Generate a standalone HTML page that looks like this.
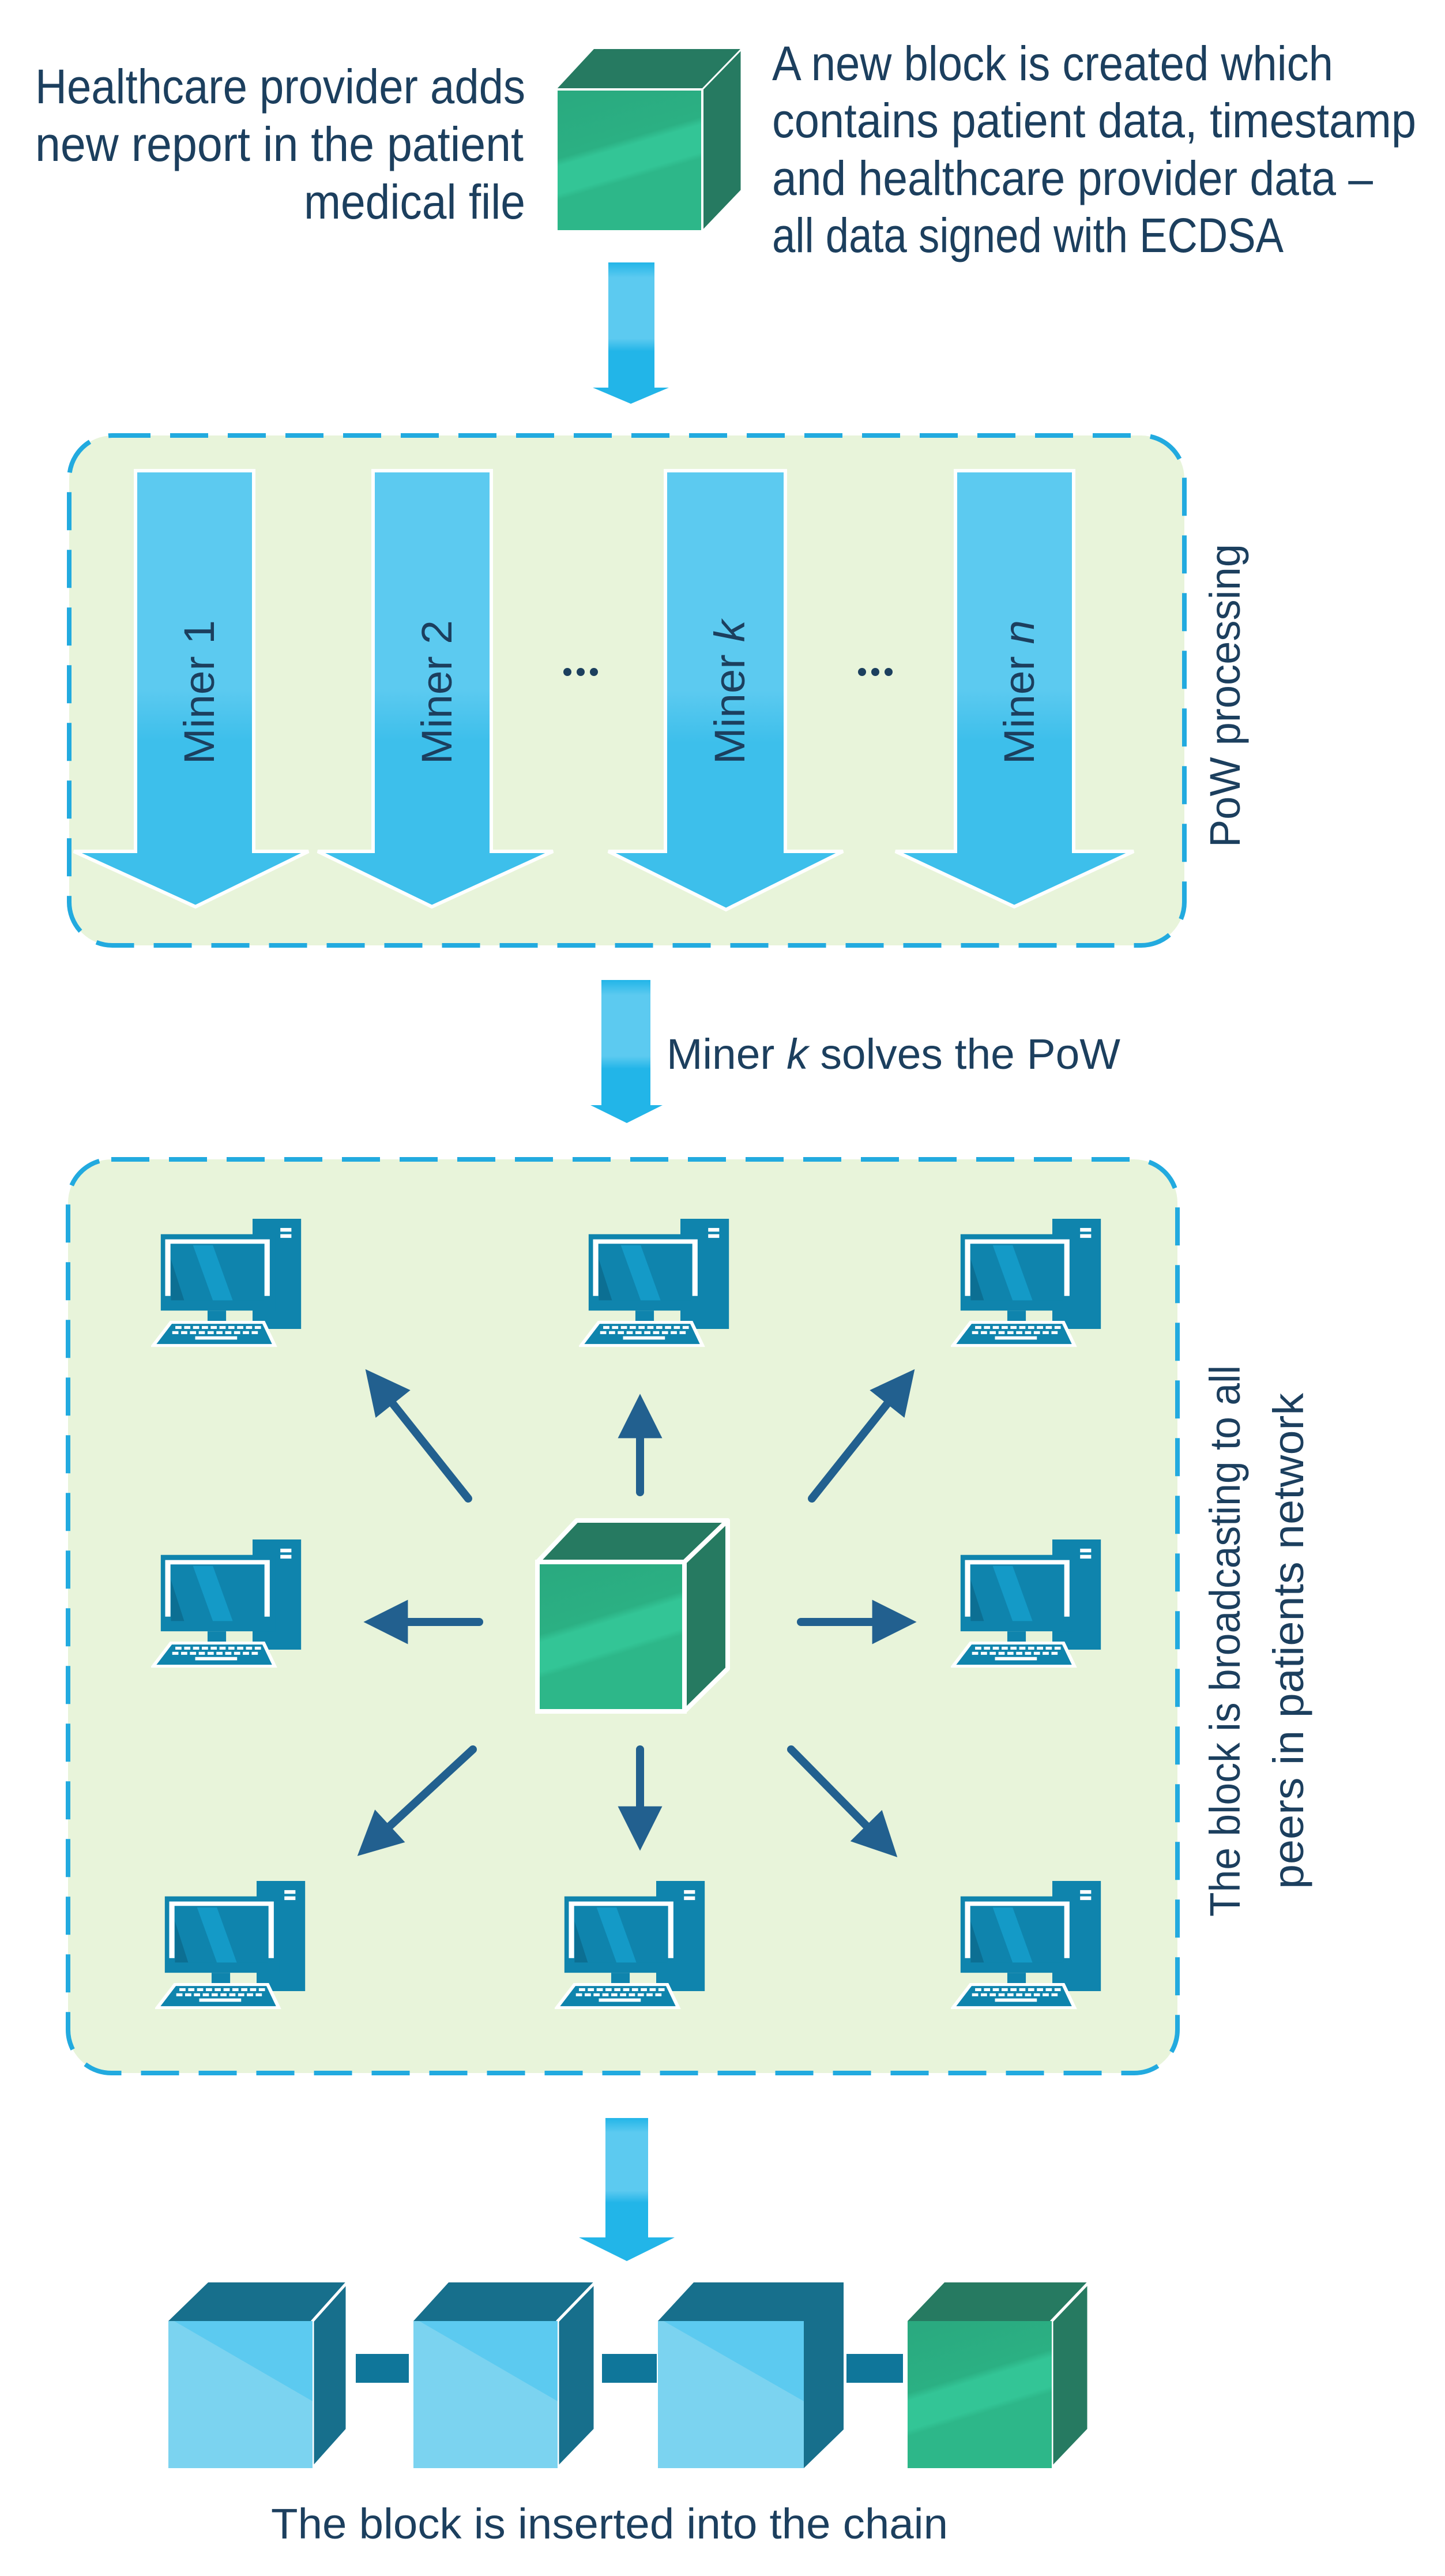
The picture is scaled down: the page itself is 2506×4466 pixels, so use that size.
<!DOCTYPE html>
<html><head><meta charset="utf-8"><style>
html,body{margin:0;padding:0;background:#fff;}
svg{display:block;}
text{font-family:"Liberation Sans",sans-serif;fill:#1c3f5e;}
</style></head><body>
<svg width="2506" height="4466" viewBox="0 0 2506 4466" xmlns="http://www.w3.org/2000/svg">
<defs>
<linearGradient id="ga" x1="0" y1="0" x2="0" y2="1">
<stop offset="0" stop-color="#5ccaf0"/><stop offset="0.5" stop-color="#5ccaf0"/><stop offset="0.62" stop-color="#3dbfeb"/><stop offset="1" stop-color="#3dbfeb"/>
</linearGradient>
<linearGradient id="gs" x1="0" y1="0" x2="0" y2="1">
<stop offset="0" stop-color="#22b5e8"/><stop offset="0.12" stop-color="#5ccaf0"/><stop offset="0.6" stop-color="#5ccaf0"/><stop offset="0.7" stop-color="#22b5e8"/><stop offset="1" stop-color="#22b5e8"/>
</linearGradient>
<linearGradient id="gg" x1="0" y1="0" x2="0.3" y2="1">
<stop offset="0" stop-color="#2aa97f"/><stop offset="0.45" stop-color="#2bb083"/><stop offset="0.5" stop-color="#33c596"/><stop offset="0.68" stop-color="#33c596"/><stop offset="0.72" stop-color="#2db789"/><stop offset="1" stop-color="#2db789"/>
</linearGradient>
<g id="comp">
<rect x="230" y="0" width="110" height="300" fill="#0f84ad"/>
<rect x="293" y="25" width="25" height="10" fill="#fff"/>
<rect x="293" y="42" width="25" height="10" fill="#fff"/>
<rect x="22" y="42" width="260" height="208" fill="#0f84ad"/>
<polyline points="38,210 38,62 263,62 263,210" fill="none" stroke="#fff" stroke-width="12"/>
<rect x="45" y="72" width="210" height="150" fill="#0f84ad"/>
<polygon points="95,72 140,72 185,222 140,222" fill="#149ac7"/>
<polygon points="45,110 75,222 45,222" fill="#0c6f93"/>
<rect x="128" y="250" width="42" height="32" fill="#0f84ad"/>
<polygon points="45,282 255,282 280,345 5,345" fill="#0f84ad" stroke="#fff" stroke-width="8"/>
<g fill="#fff">
<rect x="55" y="292" width="14" height="8"/><rect x="75" y="292" width="14" height="8"/><rect x="95" y="292" width="14" height="8"/><rect x="115" y="292" width="14" height="8"/><rect x="135" y="292" width="14" height="8"/><rect x="155" y="292" width="14" height="8"/><rect x="175" y="292" width="14" height="8"/><rect x="195" y="292" width="14" height="8"/><rect x="215" y="292" width="14" height="8"/><rect x="235" y="292" width="14" height="8"/>
<rect x="48" y="306" width="14" height="8"/><rect x="68" y="306" width="14" height="8"/><rect x="88" y="306" width="14" height="8"/><rect x="108" y="306" width="14" height="8"/><rect x="128" y="306" width="14" height="8"/><rect x="148" y="306" width="14" height="8"/><rect x="168" y="306" width="14" height="8"/><rect x="188" y="306" width="14" height="8"/><rect x="208" y="306" width="14" height="8"/><rect x="228" y="306" width="14" height="8"/>
<rect x="100" y="320" width="95" height="9"/>
</g>
</g>
<marker id="ah" viewBox="0 0 10 10" refX="2" refY="5" markerWidth="7" markerHeight="5.5" orient="auto" markerUnits="strokeWidth">
<path d="M0,0 L10,5 L0,10 z" fill="#22608f"/>
</marker>
</defs>

<g font-size="84">
<text x="911" y="179" text-anchor="end" textLength="850" lengthAdjust="spacingAndGlyphs">Healthcare provider adds</text>
<text x="908" y="279" text-anchor="end" textLength="847" lengthAdjust="spacingAndGlyphs">new report in the patient</text>
<text x="911" y="379" text-anchor="end" textLength="384" lengthAdjust="spacingAndGlyphs">medical file</text>
<text x="1339" y="139" textLength="973" lengthAdjust="spacingAndGlyphs">A new block is created which</text>
<text x="1339" y="238" textLength="1117" lengthAdjust="spacingAndGlyphs">contains patient data, timestamp</text>
<text x="1339" y="338" textLength="1042" lengthAdjust="spacingAndGlyphs">and healthcare provider data –</text>
<text x="1339" y="437" textLength="887" lengthAdjust="spacingAndGlyphs">all data signed with ECDSA</text>
</g>

<polygon points="965,155 1030,85 1286,85 1218,155" fill="#267a61"/>
<polygon points="1218,155 1286,85 1286,330 1218,401" fill="#267a61" stroke="#fff" stroke-width="3"/>
<rect x="965" y="155" width="253" height="246" fill="url(#gg)" stroke="#fff" stroke-width="4"/>

<rect x="1055" y="455" width="80" height="220" fill="url(#gs)"/>
<polygon points="1028,672 1160,672 1094,700" fill="#22b5e8"/>

<rect x="120" y="755" width="1934" height="884" rx="75" fill="#e8f4da" stroke="#22aadf" stroke-width="8" stroke-dasharray="66 34"/>

<g stroke="#fff" stroke-width="6" fill="url(#ga)">
<polygon points="235,816 440,816 440,1476 535,1476 339,1572 128,1476 235,1476"/>
<polygon points="647,816 852,816 852,1476 959,1476 749,1572 551,1476 647,1476"/>
<polygon points="1154,816 1362,816 1362,1476 1462,1476 1259,1577 1055,1476 1154,1476"/>
<polygon points="1657,816 1862,816 1862,1476 1966,1476 1759,1572 1553,1476 1657,1476"/>
</g>
<g font-size="74">
<text transform="translate(371,1200) rotate(-90)" text-anchor="middle" textLength="250" lengthAdjust="spacingAndGlyphs">Miner 1</text>
<text transform="translate(783,1200) rotate(-90)" text-anchor="middle" textLength="250" lengthAdjust="spacingAndGlyphs">Miner 2</text>
<text transform="translate(1291,1200) rotate(-90)" text-anchor="middle" textLength="250" lengthAdjust="spacingAndGlyphs">Miner <tspan font-style="italic">k</tspan></text>
<text transform="translate(1793,1200) rotate(-90)" text-anchor="middle" textLength="250" lengthAdjust="spacingAndGlyphs">Miner <tspan font-style="italic">n</tspan></text>
<text transform="translate(2150,1206) rotate(-90)" text-anchor="middle" textLength="526" lengthAdjust="spacingAndGlyphs">PoW processing</text>
</g>
<g fill="#1c3f5e">
<circle cx="984" cy="1165" r="7"/><circle cx="1007" cy="1165" r="7"/><circle cx="1030" cy="1165" r="7"/>
<circle cx="1495" cy="1165" r="7"/><circle cx="1518" cy="1165" r="7"/><circle cx="1541" cy="1165" r="7"/>
</g>

<rect x="1043" y="1699" width="85" height="220" fill="url(#gs)"/>
<polygon points="1024,1916 1149,1916 1087,1947" fill="#22b5e8"/>
<text x="1156" y="1853" font-size="74" textLength="787" lengthAdjust="spacingAndGlyphs">Miner <tspan font-style="italic">k</tspan> solves the PoW</text>

<rect x="118" y="2010" width="1924" height="1584" rx="75" fill="#e8f4da" stroke="#22aadf" stroke-width="8" stroke-dasharray="66 34"/>

<g>
<svg x="262" y="2113" width="264" height="226" viewBox="0 0 345 355" preserveAspectRatio="none"><use href="#comp"/></svg>
<svg x="1004" y="2113" width="264" height="226" viewBox="0 0 345 355" preserveAspectRatio="none"><use href="#comp"/></svg>
<svg x="1649" y="2113" width="264" height="226" viewBox="0 0 345 355" preserveAspectRatio="none"><use href="#comp"/></svg>
<svg x="262" y="2669" width="264" height="226" viewBox="0 0 345 355" preserveAspectRatio="none"><use href="#comp"/></svg>
<svg x="1649" y="2669" width="264" height="226" viewBox="0 0 345 355" preserveAspectRatio="none"><use href="#comp"/></svg>
<svg x="269" y="3261" width="264" height="226" viewBox="0 0 345 355" preserveAspectRatio="none"><use href="#comp"/></svg>
<svg x="962" y="3261" width="264" height="226" viewBox="0 0 345 355" preserveAspectRatio="none"><use href="#comp"/></svg>
<svg x="1649" y="3261" width="264" height="226" viewBox="0 0 345 355" preserveAspectRatio="none"><use href="#comp"/></svg>
</g>

<polygon points="932,2708 1000,2636 1262,2636 1187,2708" fill="#267a61" stroke="#fff" stroke-width="8" stroke-linejoin="round"/>
<polygon points="1187,2708 1262,2636 1262,2893 1187,2967" fill="#267a61" stroke="#fff" stroke-width="8" stroke-linejoin="round"/>
<rect x="932" y="2708" width="255" height="259" fill="url(#gg)" stroke="#fff" stroke-width="8"/>

<g stroke="#22608f" stroke-width="14" stroke-linecap="round" fill="none" marker-end="url(#ah)">
<line x1="1110" y1="2587" x2="1110" y2="2478"/>
<line x1="812" y1="2598" x2="672" y2="2422"/>
<line x1="1408" y1="2598" x2="1548" y2="2422"/>
<line x1="831" y1="2812" x2="692" y2="2812"/>
<line x1="1389" y1="2812" x2="1528" y2="2812"/>
<line x1="1110" y1="3033" x2="1110" y2="3147"/>
<line x1="820" y1="3033" x2="665" y2="3176"/>
<line x1="1372" y1="3033" x2="1513" y2="3176"/>
</g>
<text transform="translate(2150,2845) rotate(-90)" text-anchor="middle" font-size="74" textLength="956" lengthAdjust="spacingAndGlyphs">The block is broadcasting to all</text>
<text transform="translate(2260,2845) rotate(-90)" text-anchor="middle" font-size="74" textLength="860" lengthAdjust="spacingAndGlyphs">peers in patients network</text>

<rect x="1050" y="3672" width="74" height="210" fill="url(#gs)"/>
<polygon points="1004,3879 1170,3879 1087,3920" fill="#22b5e8"/>

<g fill="#0f769a">
<rect x="617" y="4081" width="92" height="50"/>
<rect x="1044" y="4081" width="95" height="50"/>
<rect x="1468" y="4081" width="98" height="50"/>
</g>
<g>
<polygon points="292,4024 361,3957 602,3957 542,4024" fill="#176f8c"/>
<polygon points="542,4024 602,3957 602,4212 542,4279" fill="#176f8c" stroke="#fff" stroke-width="5"/>
<rect x="292" y="4024" width="250" height="255" fill="#7bd3f0"/>
<polygon points="302,4024 542,4024 542,4163" fill="#5ccaf0"/>

<polygon points="717,4024 778,3957 1032,3957 967,4024" fill="#176f8c"/>
<polygon points="967,4024 1032,3957 1032,4212 967,4279" fill="#176f8c" stroke="#fff" stroke-width="5"/>
<rect x="717" y="4024" width="250" height="255" fill="#7bd3f0"/>
<polygon points="727,4024 967,4024 967,4163" fill="#5ccaf0"/>

<polygon points="1141,4024 1203,3957 1463,3957 1463,4212 1394,4279 1394,4024" fill="#176f8c"/>
<rect x="1141" y="4024" width="253" height="255" fill="#7bd3f0"/>
<polygon points="1151,4024 1394,4024 1394,4163" fill="#5ccaf0"/>

<polygon points="1574,4024 1638,3957 1888,3957 1824,4024" fill="#267a61"/>
<polygon points="1824,4024 1888,3957 1888,4212 1824,4279" fill="#267a61" stroke="#fff" stroke-width="5"/>
<rect x="1574" y="4024" width="250" height="255" fill="url(#gg)"/>
</g>
<text x="470" y="4401" font-size="74" textLength="1174" lengthAdjust="spacingAndGlyphs">The block is inserted into the chain</text>
</svg>
</body></html>
